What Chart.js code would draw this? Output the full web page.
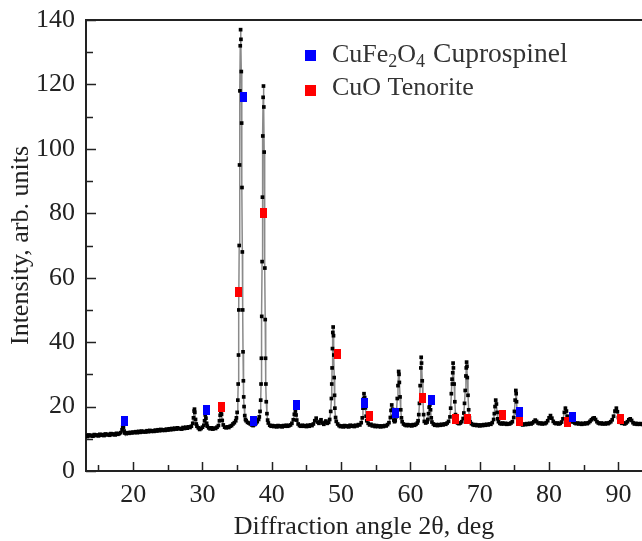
<!DOCTYPE html>
<html>
<head>
<meta charset="utf-8">
<script src="https://cdn.jsdelivr.net/npm/chart.js@4.4.0/dist/chart.umd.min.js"></script>
<style>
  html, body { margin: 0; padding: 0; background: #fff; }
  #wrap { width: 642px; height: 541px; }
</style>
</head>
<body>
<div id="wrap"><canvas id="xrd" width="642" height="541"></canvas></div>
<script>
const twoTheta = [
  13.2, 13.4, 13.6, 13.8, 14.0, 14.2, 14.4, 14.6, 14.8, 15.0,
  15.2, 15.4, 15.6, 15.8, 16.0, 16.2, 16.4, 16.6, 16.8, 17.0,
  17.2, 17.4, 17.6, 17.8, 18.0, 18.2, 18.4, 18.5, 18.6, 18.7,
  18.8, 19.0, 19.2, 19.4, 19.6, 19.8, 20.0, 20.2, 20.4, 20.6,
  20.8, 21.0, 21.2, 21.4, 21.6, 21.8, 22.0, 22.2, 22.4, 22.6,
  22.8, 23.0, 23.2, 23.4, 23.6, 23.8, 24.0, 24.2, 24.4, 24.6,
  24.8, 25.0, 25.2, 25.4, 25.6, 25.8, 26.0, 26.2, 26.4, 26.6,
  26.8, 27.0, 27.2, 27.4, 27.6, 27.8, 28.0, 28.2, 28.4, 28.6,
  28.7, 28.8, 28.85, 28.9, 29.0, 29.1, 29.2, 29.4, 29.6, 29.8,
  30.0, 30.2, 30.3, 30.4, 30.5, 30.6, 30.7, 30.9, 31.1, 31.3,
  31.5, 31.7, 31.9, 32.1, 32.3, 32.45, 32.55, 32.65, 32.75, 32.85,
  33.0, 33.2, 33.4, 33.6, 33.8, 34.0, 34.2, 34.4, 34.6, 34.8,
  34.9, 35.0, 35.1, 35.15, 35.2, 35.25, 35.3, 35.35, 35.4, 35.45,
  35.5, 35.55, 35.6, 35.65, 35.7, 35.75, 35.8, 35.85, 35.9, 35.95,
  36.0, 36.1, 36.2, 36.3, 36.5, 36.7, 36.9, 37.1, 37.3, 37.5,
  37.7, 37.9, 38.1, 38.2, 38.3, 38.4, 38.45, 38.5, 38.55, 38.6,
  38.65, 38.7, 38.75, 38.8, 38.85, 38.9, 38.95, 39.0, 39.05, 39.1,
  39.15, 39.2, 39.3, 39.4, 39.5, 39.7, 39.9, 40.1, 40.3, 40.5,
  40.7, 40.9, 41.1, 41.3, 41.5, 41.7, 41.9, 42.1, 42.3, 42.5,
  42.7, 42.9, 43.1, 43.25, 43.4, 43.5, 43.6, 43.8, 44.0, 44.2,
  44.4, 44.6, 44.8, 45.0, 45.2, 45.4, 45.6, 45.8, 46.0, 46.2,
  46.4, 46.6, 46.8, 47.0, 47.1, 47.3, 47.5, 47.7, 47.8, 48.0,
  48.2, 48.35, 48.5, 48.6, 48.65, 48.7, 48.75, 48.8, 48.85, 48.9,
  48.95, 49.0, 49.05, 49.1, 49.2, 49.3, 49.5, 49.7, 49.9, 50.1,
  50.3, 50.5, 50.7, 50.9, 51.1, 51.3, 51.5, 51.7, 51.9, 52.1,
  52.3, 52.5, 52.7, 52.9, 53.05, 53.15, 53.25, 53.3, 53.4, 53.5,
  53.6, 53.7, 53.9, 54.1, 54.3, 54.5, 54.7, 54.9, 55.1, 55.3,
  55.5, 55.7, 55.9, 56.1, 56.3, 56.5, 56.7, 56.9, 57.1, 57.2,
  57.3, 57.4, 57.5, 57.6, 57.7, 57.8, 57.9, 58.0, 58.1, 58.2,
  58.3, 58.35, 58.4, 58.5, 58.6, 58.7, 58.8, 59.0, 59.2, 59.4,
  59.6, 59.8, 60.0, 60.2, 60.4, 60.6, 60.8, 61.0, 61.1, 61.2,
  61.3, 61.4, 61.5, 61.55, 61.6, 61.7, 61.8, 61.9, 62.0, 62.2,
  62.4, 62.5, 62.6, 62.7, 62.8, 62.9, 63.0, 63.1, 63.3, 63.5,
  63.7, 63.9, 64.1, 64.3, 64.5, 64.7, 64.9, 65.1, 65.3, 65.5,
  65.7, 65.8, 65.9, 66.0, 66.05, 66.1, 66.15, 66.2, 66.3, 66.4,
  66.5, 66.6, 66.8, 67.0, 67.2, 67.4, 67.6, 67.7, 67.8, 67.9,
  68.0, 68.05, 68.1, 68.15, 68.2, 68.3, 68.4, 68.5, 68.6, 68.8,
  69.0, 69.2, 69.4, 69.6, 69.8, 70.0, 70.2, 70.4, 70.6, 70.8,
  71.0, 71.2, 71.4, 71.6, 71.8, 72.0, 72.1, 72.2, 72.3, 72.4,
  72.5, 72.6, 72.7, 72.9, 73.1, 73.3, 73.5, 73.7, 73.9, 74.1,
  74.3, 74.5, 74.7, 74.9, 75.0, 75.1, 75.2, 75.25, 75.3, 75.4,
  75.5, 75.6, 75.8, 76.0, 76.2, 76.4, 76.6, 76.8, 77.0, 77.2,
  77.4, 77.6, 77.8, 78.0, 78.2, 78.4, 78.6, 78.8, 79.0, 79.2,
  79.4, 79.6, 79.8, 80.0, 80.2, 80.4, 80.6, 80.8, 81.0, 81.2,
  81.4, 81.6, 81.8, 82.0, 82.2, 82.35, 82.5, 82.6, 82.7, 82.9,
  83.1, 83.3, 83.5, 83.7, 83.9, 84.1, 84.3, 84.5, 84.7, 84.9,
  85.1, 85.3, 85.5, 85.7, 85.9, 86.1, 86.3, 86.5, 86.7, 86.9,
  87.1, 87.3, 87.5, 87.7, 87.9, 88.1, 88.3, 88.5, 88.7, 88.9,
  89.1, 89.3, 89.5, 89.7, 89.85, 90.0, 90.1, 90.3, 90.5, 90.7,
  90.9, 91.1, 91.3, 91.5, 91.7, 91.9, 92.1, 92.3, 92.5, 92.7,
  92.9, 93.1, 93.3, 93.5
];
const counts = [
  11.0, 10.7, 11.2, 10.9, 11.1, 10.8, 11.3, 11.0, 11.2, 10.9,
  11.4, 11.1, 11.3, 11.0, 11.5, 11.2, 11.4, 11.1, 11.6, 11.3,
  11.5, 11.2, 11.7, 11.4, 11.6, 11.9, 12.8, 13.8, 13.6, 12.4,
  11.8, 11.6, 11.9, 11.7, 12.0, 11.8, 12.1, 11.9, 12.2, 11.9,
  12.3, 12.0, 12.4, 12.1, 12.3, 12.1, 12.5, 12.2, 12.6, 12.3,
  12.5, 12.3, 12.7, 12.4, 12.8, 12.5, 12.9, 12.6, 12.8, 12.6,
  13.0, 12.7, 13.1, 12.8, 13.2, 12.9, 13.3, 13.0, 13.4, 13.1,
  13.2, 13.0, 13.5, 13.2, 13.6, 13.3, 13.7, 13.5, 13.9, 14.8,
  16.5, 18.6, 19.2, 18.2, 16.0, 14.6, 13.9, 13.4, 12.9, 13.2,
  13.6, 14.2, 15.6, 17.4, 16.4, 14.8, 13.9, 13.4, 13.1, 13.4,
  13.0, 13.3, 13.2, 13.6, 14.1, 15.6, 17.3, 18.4, 17.6, 15.7,
  14.3, 13.6, 13.4, 13.7, 13.5, 13.9, 14.1, 14.6, 15.0, 15.6,
  16.5, 18.2, 22.0, 27.0, 36.0, 50.0, 70.0, 95.0, 118.0, 132.0,
  137.0, 134.0, 124.0, 108.0, 88.0, 68.0, 50.0, 37.0, 28.0, 23.0,
  20.0, 17.2, 16.0, 15.6, 15.1, 14.9, 14.6, 14.3, 14.1, 14.4,
  14.8, 15.3, 16.0, 16.8, 18.5, 22.0, 27.0, 35.0, 48.0, 65.0,
  85.0, 104.0, 116.0, 119.5, 113.0, 99.0, 81.0, 63.0, 47.0, 35.0,
  27.0, 21.5, 17.8, 15.8, 14.9, 14.2, 13.9, 14.1, 13.8, 14.0,
  13.7, 14.1, 13.8, 14.0, 13.7, 14.1, 13.9, 14.2, 13.9, 14.1,
  14.3, 14.8, 15.9, 17.6, 18.6, 17.4, 15.8, 14.6, 14.1, 13.9,
  14.2, 13.9, 14.1, 13.8, 14.2, 13.9, 14.3, 14.1, 14.6, 15.6,
  16.4, 15.2, 14.8, 15.4, 15.9, 14.9, 14.5, 15.1, 15.5, 14.8,
  15.1, 16.0, 18.5, 22.5, 27.0, 32.0, 38.0, 43.0, 44.7, 42.0,
  36.0, 29.0, 23.5, 19.5, 16.6, 15.4, 14.6, 14.1, 13.8, 14.0,
  13.7, 14.1, 13.8, 14.0, 13.7, 14.2, 13.9, 14.1, 13.8, 14.2,
  14.0, 14.4, 14.3, 15.0, 16.5, 19.5, 22.5, 24.0, 22.8, 19.6,
  17.0, 15.6, 14.8, 14.3, 14.5, 14.0, 14.2, 13.8, 14.1, 13.8,
  14.0, 13.7, 14.0, 13.8, 14.1, 14.0, 14.4, 15.0, 16.6, 18.8,
  20.5, 19.2, 17.0, 15.8, 15.3, 15.6, 16.8, 19.0, 22.5, 26.5,
  30.9, 30.0, 27.5, 23.0, 19.0, 16.5, 15.3, 14.6, 14.3, 14.1,
  14.4, 14.1, 14.3, 14.0, 14.4, 14.2, 14.5, 14.9, 15.6, 17.5,
  21.0, 26.5, 32.0, 35.3, 33.5, 28.0, 22.0, 17.5, 15.4, 14.9,
  15.2, 16.0, 17.8, 19.8, 20.5, 19.0, 16.5, 15.2, 14.6, 14.2,
  14.4, 14.1, 14.4, 14.2, 14.5, 14.3, 14.6, 14.5, 14.9, 15.4,
  16.8, 19.5, 24.0, 28.5, 27.0, 30.5, 33.5, 32.0, 27.0, 21.5,
  17.5, 15.6, 14.9, 14.7, 14.9, 15.3, 16.3, 18.0, 21.0, 25.0,
  29.5, 32.0, 33.8, 32.5, 29.0, 23.5, 19.0, 16.5, 15.3, 14.7,
  14.4, 14.2, 14.4, 14.1, 14.3, 14.0, 14.3, 14.1, 14.4, 14.2,
  14.5, 14.3, 14.6, 14.5, 15.0, 16.0, 17.8, 20.0, 22.0, 20.8,
  18.2, 16.2, 15.3, 14.8, 14.6, 14.9, 14.6, 14.8, 14.5, 14.7,
  14.6, 14.9, 15.3, 16.6, 18.5, 22.0, 25.0, 24.0, 21.5, 18.0,
  16.0, 15.2, 14.8, 14.5, 14.3, 14.6, 14.4, 14.7, 14.5, 14.8,
  14.6, 14.9, 15.3, 15.8, 15.4, 14.9, 14.7, 14.9, 14.6, 14.8,
  14.7, 15.0, 15.6, 16.5, 17.2, 16.4, 15.4, 14.9, 14.7, 14.9,
  14.6, 14.8, 15.2, 16.2, 18.2, 19.5, 18.6, 17.0, 16.0, 15.6,
  15.3, 15.8, 15.2, 14.9, 14.7, 14.9, 14.6, 14.8, 14.5, 14.8,
  14.6, 14.9, 14.7, 15.0, 15.4, 15.9, 16.3, 16.5, 16.0, 15.3,
  14.9, 14.7, 14.9, 14.6, 14.8, 14.6, 14.9, 14.7, 15.0, 15.3,
  15.9, 17.0, 18.6, 19.5, 18.4, 16.6, 15.6, 15.1, 14.8, 14.9,
  14.6, 14.9, 15.3, 15.9, 16.2, 15.7, 15.0, 14.6, 14.8, 14.5,
  14.7, 14.5, 14.7, 14.5
];

// reference reflections (marker positions)
const spinelAngles  = [18.7, 30.6, 35.87, 37.3, 43.6, 53.33, 57.85, 63.05, 75.8, 83.4];
const spinelHeights = [15.5, 19.0, 116.0, 15.5, 20.5, 21.2, 18.1, 21.9, 18.4, 16.9];
const tenoriteAngles  = [32.75, 35.25, 38.75, 49.43, 54.15, 61.75, 66.56, 68.2, 73.3, 75.7, 82.7, 90.37];
const tenoriteHeights = [20.0, 55.5, 80.0, 36.4, 17.0, 22.6, 16.1, 16.1, 17.4, 15.6, 15.3, 16.1];

const xMajorTicks = [20, 30, 40, 50, 60, 70, 80, 90];
const xMinorTicks = [15, 25, 35, 45, 55, 65, 75, 85];
const yMajorTicks = [0, 20, 40, 60, 80, 100, 120, 140];
const yMinorTicks = [10, 30, 50, 70, 90, 110, 130];

const ink = '#222';
const serif = 'Liberation Serif, Times New Roman, serif';

function barMark(color) {
    const c = document.createElement('canvas');
    c.width = 7;
    c.height = 10;
    const g = c.getContext('2d');
    g.fillStyle = color;
    g.fillRect(0, 0, 7, 10);
    return c;
}

function pairs(xs, ys) {
    return xs.map((x, i) => ({x: x, y: ys[i]}));
}

// inward ticks + top frame line
const frameTicks = {
    id: 'frameTicks',
    afterDraw(chart) {
        const ctx = chart.ctx;
        const area = chart.chartArea;
        const xs = chart.scales.x;
        const ys = chart.scales.y;
        ctx.save();
        ctx.strokeStyle = ink;
        ctx.lineWidth = 2;
        ctx.beginPath();
        ctx.moveTo(area.left - 1, area.top);
        ctx.lineTo(area.right, area.top);
        ctx.stroke();

        ctx.lineWidth = 1.5;
        ctx.beginPath();
        xMajorTicks.forEach(v => {
            const px = Math.round(xs.getPixelForValue(v)) + 0.5;
            ctx.moveTo(px, area.bottom);
            ctx.lineTo(px, area.bottom - 9);
        });
        xMinorTicks.forEach(v => {
            const px = Math.round(xs.getPixelForValue(v)) + 0.5;
            ctx.moveTo(px, area.bottom);
            ctx.lineTo(px, area.bottom - 6);
        });
        yMajorTicks.forEach(v => {
            const py = Math.round(ys.getPixelForValue(v)) + 0.5;
            ctx.moveTo(area.left, py);
            ctx.lineTo(area.left + 10, py);
        });
        yMinorTicks.forEach(v => {
            const py = Math.round(ys.getPixelForValue(v)) + 0.5;
            ctx.moveTo(area.left, py);
            ctx.lineTo(area.left + 7, py);
        });
        ctx.stroke();
        ctx.restore();
    }
};

// legend with sub-scripted formula
const phaseLegend = {
    id: 'phaseLegend',
    afterDraw(chart) {
        const ctx = chart.ctx;
        ctx.save();
        ctx.fillStyle = '#0000ff';
        ctx.fillRect(305, 50, 11, 11);
        ctx.fillStyle = '#ff0000';
        ctx.fillRect(305, 85, 11, 11);

        ctx.fillStyle = '#333';
        ctx.textBaseline = 'alphabetic';
        const big = '26px ' + serif;
        const small = '18px ' + serif;
        let x = 332;
        const parts = [['CuFe', big, 0], ['2', small, 5], ['O', big, 0], ['4', small, 5]];
        parts.forEach(p => {
            ctx.font = p[1];
            ctx.fillText(p[0], x, 62 + p[2]);
            x += ctx.measureText(p[0]).width;
        });
        ctx.font = '27.5px ' + serif;
        ctx.fillText('Cuprospinel', x + 8, 62);
        ctx.font = big;
        ctx.fillText('CuO Tenorite', 332, 95);
        ctx.restore();
    }
};

new Chart(document.getElementById('xrd'), {
    type: 'scatter',
    data: {
        datasets: [
            {
                label: 'CuFe2O4 Cuprospinel',
                data: pairs(spinelAngles, spinelHeights),
                pointStyle: barMark('#0000ff'),
                order: 0
            },
            {
                label: 'CuO Tenorite',
                data: pairs(tenoriteAngles, tenoriteHeights),
                pointStyle: barMark('#ff0000'),
                order: 1
            },
            {
                label: 'scan',
                data: pairs(twoTheta, counts),
                showLine: true,
                borderColor: '#8a8a8a',
                borderWidth: 1.5,
                pointStyle: 'rect',
                pointRadius: 2.6,
                pointBorderWidth: 0,
                pointBackgroundColor: '#000',
                order: 2
            }
        ]
    },
    options: {
        responsive: false,
        animation: false,
        events: [],
        // no auto padding for point overflow, so the plot runs to the right edge
        layout: {autoPadding: false, padding: {top: 20, right: 0, left: 0, bottom: 0}},
        plugins: {
            legend: {display: false},
            tooltip: {enabled: false}
        },
        scales: {
            x: {
                type: 'linear',
                min: 13.2,
                max: 93.4,
                afterFit: s => {
                    s.height = 70;
                    s.paddingLeft = 0;
                    s.paddingRight = 0;
                },
                afterBuildTicks: s => { s.ticks = xMajorTicks.map(v => ({value: v})); },
                grid: {display: false, drawTicks: false},
                border: {display: true, color: ink, width: 2},
                ticks: {
                    color: ink,
                    padding: 9,
                    autoSkip: false,
                    maxRotation: 0,
                    font: {family: serif, size: 26}
                },
                title: {
                    display: true,
                    text: 'Diffraction angle 2θ, deg',
                    color: ink,
                    padding: {top: 0, bottom: 1},
                    font: {family: serif, size: 26, lineHeight: 1}
                }
            },
            y: {
                type: 'linear',
                min: 0,
                max: 140,
                afterFit: s => {
                    s.width = 86;
                    s.paddingTop = 0;
                    s.paddingBottom = 0;
                },
                afterBuildTicks: s => { s.ticks = yMajorTicks.map(v => ({value: v})); },
                grid: {display: false, drawTicks: false},
                border: {display: true, color: ink, width: 2},
                ticks: {
                    color: ink,
                    padding: 11,
                    font: {family: serif, size: 26}
                },
                title: {
                    display: true,
                    text: 'Intensity, arb. units',
                    color: ink,
                    padding: {top: 6, bottom: 0},
                    font: {family: serif, size: 26, lineHeight: 1.2}
                }
            }
        }
    },
    plugins: [frameTicks, phaseLegend]
});
</script>
</body>
</html>
